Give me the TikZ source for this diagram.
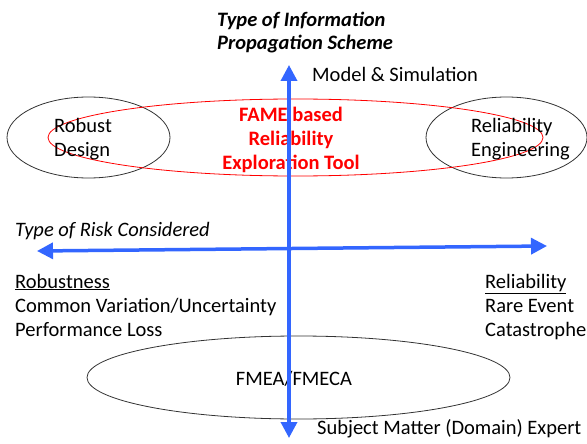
\documentclass[tikz,border=0pt]{standalone}
\usepackage{fontspec}
\setmainfont{Carlito}
\usetikzlibrary{arrows.meta,shapes.geometric}
\definecolor{axisblue}{RGB}{51,102,255}
\definecolor{toolred}{RGB}{255,0,0}
\begin{document}
\begin{tikzpicture}[x=1pt,y=-1pt,
  lbl/.style={inner sep=0pt,font=\fontsize{20.5}{24}\selectfont},
  hdr/.style={lbl,font=\fontsize{20.5}{24}\selectfont\bfseries\itshape},
  oval/.style={ellipse,draw=black!80,line width=0.8pt,inner sep=0pt},
  axis/.style={draw=axisblue,line width=3.5pt,
    {Triangle[length=16pt,width=16pt]}-{Triangle[length=16pt,width=16pt]}}]
\useasboundingbox (0,0) rectangle (587,444);

% method ellipses
\node[oval,minimum width=163pt,minimum height=81pt] (rd) at (88.5,137.5) {};
\node[oval,minimum width=161pt,minimum height=81pt] (re) at (506.5,137.5) {};
\node[oval,minimum width=423pt,minimum height=83pt] (fm) at (298.5,377.5) {};
\node[ellipse,draw=toolred,line width=0.8pt,inner sep=0pt,
      minimum width=495pt,minimum height=77pt] (fame) at (295.5,137.5) {};

% texts (multi-line nodes are placed by the baseline of their last line)
\node[hdr,align=left,anchor=base west] (title) at (217,50)
  {Type of Information\\Propagation Scheme};
\node[lbl,anchor=base west] (ms) at (312,82) {Model \& Simulation};
\node[lbl,align=center,anchor=base,text=toolred,font=\fontsize{20.5}{24}\selectfont\bfseries]
  (fametxt) at (291,169) {FAME based\\Reliability\\Exploration Tool};
\node[lbl,align=left,anchor=base west] (rdtxt) at (54,156) {Robust\\Design};
\node[lbl,align=left,anchor=base west] (retxt) at (471,156) {Reliability\\Engineering};
\node[lbl,anchor=base west,font=\fontsize{20.5}{24}\selectfont\itshape] (risk) at (15,236)
  {Type of Risk Considered};
\node[lbl,align=left,anchor=base west] (rob) at (15,336)
  {\underline{Robustness}\\Common Variation/Uncertainty\\Performance Loss};
\node[lbl,align=left,anchor=base west] (rel) at (485,336)
  {\underline{Reliability}\\Rare Event\\Catastrophe};
\node[lbl] (fmtxt) at (294,379) {FMEA/FMECA};
\node[lbl,anchor=base west] (sme) at (317,434) {Subject Matter (Domain) Expert};

% axes
\coordinate (up) at (289,65);
\coordinate (down) at (289,438);
\coordinate (left) at (37,251);
\coordinate (right) at (547,246);
\draw[axis] (left) -- (right);
\draw[axis] (down) -- (up);
\end{tikzpicture}
\end{document}
